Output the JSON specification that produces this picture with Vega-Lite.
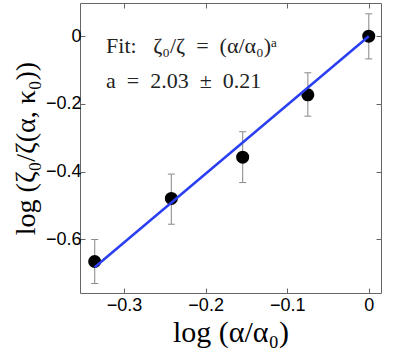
{
  "$schema": "https://vega.github.io/schema/vega-lite/v6.json",
  "autosize": {"type": "none"},
  "padding": {"left": 80, "top": 3, "right": 18, "bottom": 56},
  "width": 301,
  "height": 290,
  "background": "white",
  "config": {
    "view": {"stroke": "#666", "strokeWidth": 1},
    "axis": {
      "domain": false,
      "grid": false,
      "tickColor": "#666",
      "tickSize": -5,
      "labelFont": "Liberation Sans",
      "labelFontSize": 18,
      "labelColor": "black",
      "titleFont": "Liberation Serif",
      "titleFontWeight": "normal",
      "titleColor": "black"
    }
  },
  "datasets": {
    "pts": [
      {"x": -0.336, "y": -0.665, "lo": -0.730, "hi": -0.600},
      {"x": -0.242, "y": -0.479, "lo": -0.555, "hi": -0.407},
      {"x": -0.1546, "y": -0.357, "lo": -0.432, "hi": -0.282},
      {"x": -0.0747, "y": -0.173, "lo": -0.236, "hi": -0.108},
      {"x": 0.0, "y": 0.0, "lo": -0.067, "hi": 0.066}
    ],
    "fit": [
      {"x": -0.336, "y": -0.682},
      {"x": 0.0, "y": 0.0}
    ],
    "notes": [
      {"x": -0.322, "y": -0.03, "label": "Fit:\u2002 ζ₀/ζ\u2002=\u2002(α/α₀)ᵃ"},
      {"x": -0.322, "y": -0.132, "label": "a\u2002=\u20022.03\u2002±\u20020.21"}
    ]
  },
  "layer": [
    {
      "data": {"name": "pts"},
      "mark": {"type": "errorbar", "ticks": {"size": 7, "color": "#555"}, "rule": {"color": "#999", "strokeWidth": 1.2}},
      "encoding": {
        "x": {"field": "x", "type": "quantitative", "scale": {"domain": [-0.354, 0.015], "nice": false, "zero": false},
          "axis": {"orient": "bottom", "values": [-0.3, -0.2, -0.1, 0], "format": ".1~f", "labelPadding": 8, "title": "log (α/α₀)", "titleFontSize": 30, "titlePadding": 3}},
        "y": {"field": "lo", "type": "quantitative", "scale": {"domain": [-0.758, 0.098], "nice": false, "zero": false},
          "axis": {"orient": "left", "values": [-0.6, -0.4, -0.2, 0], "format": ".1~f", "labelPadding": 4, "title": "log (ζ₀/ζ(α, κ₀))", "titleFontSize": 28, "titlePadding": 5}},
        "y2": {"field": "hi"}
      }
    },
    {
      "data": {"name": "pts"},
      "mark": {"type": "point", "filled": true, "color": "black", "opacity": 1, "size": 170},
      "encoding": {
        "x": {"field": "x", "type": "quantitative", "axis": {"orient": "top", "labels": false, "title": null, "values": [-0.3, -0.2, -0.1, 0]}},
        "y": {"field": "y", "type": "quantitative", "axis": {"orient": "right", "labels": false, "title": null, "values": [-0.6, -0.4, -0.2, 0]}}
      }
    },
    {
      "data": {"name": "fit"},
      "mark": {"type": "line", "color": "#2b3ff2", "strokeWidth": 2.5},
      "encoding": {
        "x": {"field": "x", "type": "quantitative", "axis": null},
        "y": {"field": "y", "type": "quantitative", "axis": null}
      }
    },
    {
      "data": {"name": "notes"},
      "mark": {"type": "text", "align": "left", "baseline": "middle", "font": "Liberation Serif", "fontSize": 22, "color": "#222"},
      "encoding": {
        "x": {"field": "x", "type": "quantitative", "axis": null},
        "y": {"field": "y", "type": "quantitative", "axis": null},
        "text": {"field": "label"}
      }
    }
  ],
  "resolve": {"axis": {"x": "independent", "y": "independent"}}
}
